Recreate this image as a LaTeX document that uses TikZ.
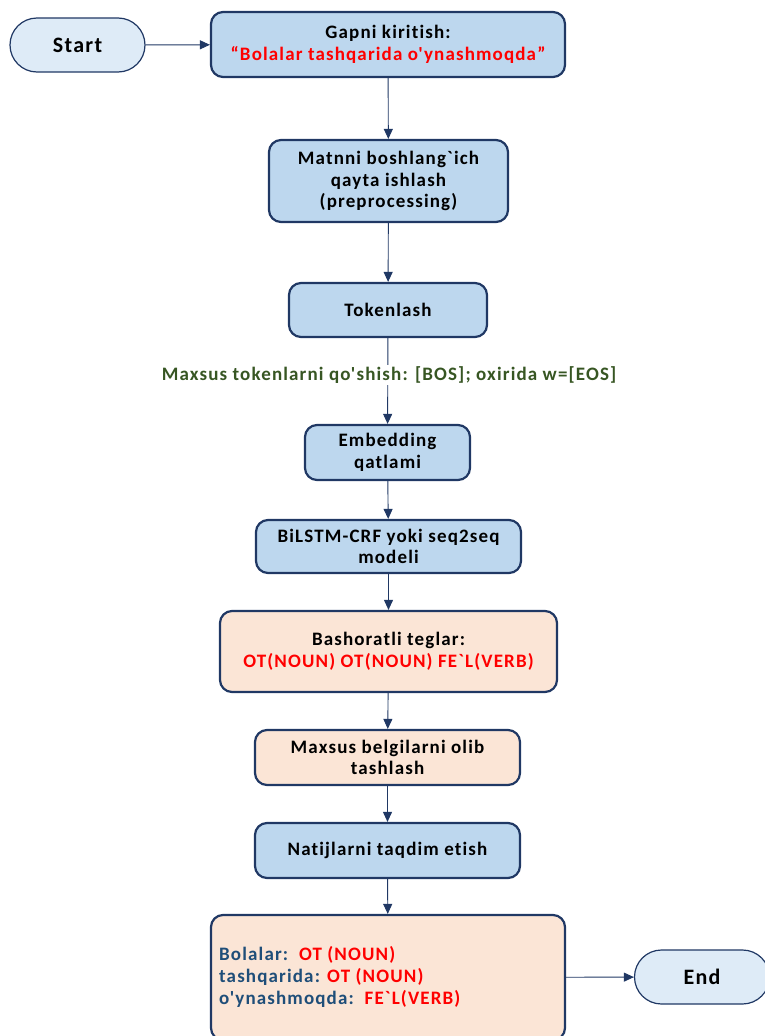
\documentclass[tikz,border=0pt]{standalone}
\usepackage{fontspec}
\newfontfamily\flowfont{Carlito}[LetterSpace=6, Ligatures=NoCommon]
\usetikzlibrary{arrows.meta}

\definecolor{boxblue}{HTML}{BDD7EE}
\definecolor{boxpeach}{HTML}{FBE5D6}
\definecolor{termfill}{HTML}{DEEBF7}
\definecolor{edgeblue}{HTML}{203864}
\definecolor{tagred}{HTML}{FF0000}
\definecolor{notegreen}{HTML}{375623}
\definecolor{wordblue}{HTML}{1F4E79}

\tikzset{
  procbox/.style={draw=edgeblue, line width=2.2pt, rounded corners=12pt, inner sep=0pt,
    align=center, font=\flowfont\bfseries\fontsize{19}{21.5}\selectfont},
  bluebox/.style={procbox, fill=boxblue},
  peachbox/.style={procbox, fill=boxpeach},
  terminal/.style={draw=edgeblue, line width=1.2pt, fill=termfill, rounded corners=27pt,
    inner sep=0pt, minimum width=135pt, minimum height=54pt,
    font=\flowfont\bfseries\fontsize{22}{26}\selectfont},
  flow/.style={draw=edgeblue, line width=0.9pt, -{Triangle[length=10pt,width=9pt]}}
}

\begin{document}
\begin{tikzpicture}[x=1pt,y=-1pt]
\useasboundingbox (0,0) rectangle (765,1036);
\clip (0,0) rectangle (765,1036);

\node[terminal] (start) at (77.5,45) {Start};
\node[bluebox, minimum width=354pt, minimum height=65pt] (input) at (388,44.5)
  {Gapni kiritish:\\\textcolor{tagred}{“Bolalar tashqarida o'ynashmoqda”}};
\node[bluebox, minimum width=239pt, minimum height=82pt] (prep) at (388.5,181)
  {Matnni boshlang`ich\\qayta ishlash\\(preprocessing)};
\node[bluebox, minimum width=198pt, minimum height=54pt] (token) at (388,310) {Tokenlash};
\node[bluebox, minimum width=165pt, minimum height=55pt] (embed) at (387.5,452.5)
  {Embedding\\qatlami};
\node[bluebox, minimum width=265pt, minimum height=53pt] (model) at (388.5,546.5)
  {BiLSTM-CRF yoki seq2seq\\modeli};
\node[peachbox, minimum width=337pt, minimum height=81pt] (pred) at (388.5,651.5)
  {Bashoratli teglar:\\\textcolor{tagred}{OT(NOUN) OT(NOUN) FE`L(VERB)}};
\node[peachbox, minimum width=265pt, minimum height=55pt] (strip) at (387.5,757.5)
  {Maxsus belgilarni olib\\tashlash};
\node[bluebox, minimum width=265pt, minimum height=55pt] (show) at (387.5,850.5)
  {Natijlarni taqdim etish};
\node[peachbox, minimum width=354pt, minimum height=125pt] (result) at (388,977.5) {};
\node[anchor=west, align=left, inner sep=0pt, font=\flowfont\bfseries\fontsize{19}{22}\selectfont]
  (tags) at (219,977)
  {\textcolor{wordblue}{Bolalar:}\ \ \textcolor{tagred}{OT (NOUN)}\\
   \textcolor{wordblue}{tashqarida:} \textcolor{tagred}{OT (NOUN)}\\
   \textcolor{wordblue}{o'ynashmoqda:}\ \ \textcolor{tagred}{FE`L(VERB)}};
\node[terminal] (end) at (702,977) {End};

\draw[flow] (start) -- (input);
\draw[flow] (input) -- (prep);
\draw[flow] (prep) -- (token);
\draw[flow] (token) -- (embed);
\draw[flow] (embed) -- (model);
\draw[flow] (model) -- (pred);
\draw[flow] (pred) -- (strip);
\draw[flow] (strip) -- (show);
\draw[flow] (show) -- (result);
\draw[flow] (result) -- (end);

\node[fill=white, inner sep=2pt, text=notegreen, font=\flowfont\bfseries\fontsize{19}{21}\selectfont]
  (note) at (389,375) {Maxsus tokenlarni qo'shish: [BOS]; oxirida w=[EOS]};

\end{tikzpicture}
\end{document}
